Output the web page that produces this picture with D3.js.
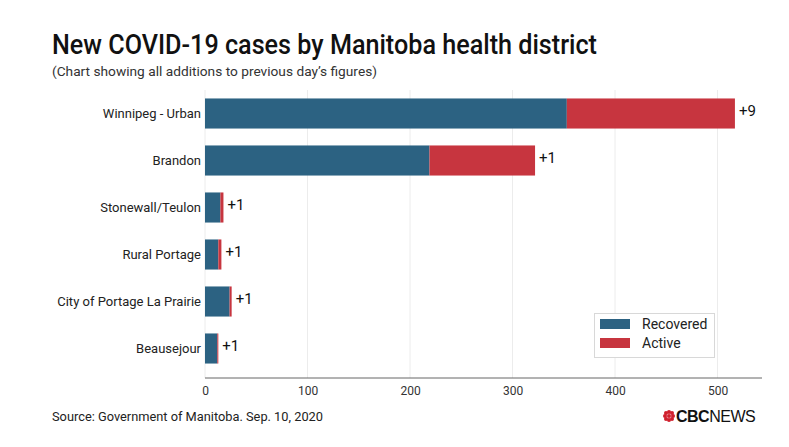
<!DOCTYPE html>
<html><head><meta charset="utf-8">
<script src="https://cdnjs.cloudflare.com/ajax/libs/d3/7.8.5/d3.min.js"></script>
<style>
body{margin:0;background:#fff;}
text{font-family:Roboto,"Noto Sans",sans-serif;}
</style></head>
<body>
<svg id="c" width="789" height="447"></svg>
<script>
const categories = ["Winnipeg - Urban","Brandon","Stonewall/Teulon","Rural Portage","City of Portage La Prairie","Beausejour"];
const recovered = [353, 219, 15, 13, 24, 12];
const active = [164, 103, 3, 3, 2, 1];
const newCases = ["+9","+1","+1","+1","+1","+1"];
const ticks = [0,100,200,300,400,500];
const seriesNames = ["Recovered","Active"];
const colors = ["#2c6282","#c7353f"];

const svg = d3.select("#c");
svg.append("rect").attr("width",789).attr("height",447).attr("fill","#fff");

const x = d3.scaleLinear().domain([0,500]).range([205,717.5]);
const y = d3.scaleBand().domain(categories).range([90,372]).paddingInner(0.36).paddingOuter(0.18);

function fit(sel, w){
  sel.attr("textLength", w).attr("lengthAdjust","spacingAndGlyphs");
}

// gridlines
svg.append("g").selectAll("line").data(ticks).join("line")
  .attr("x1",d=>x(d)).attr("x2",d=>x(d)).attr("y1",90).attr("y2",378)
  .attr("stroke","#ececec").attr("stroke-width",1);

// title
fit(svg.append("text").attr("x",52).attr("y",54).attr("font-size",27).attr("font-weight",500).attr("fill","#111")
  .text("New COVID-19 cases by Manitoba health district"), 545);
fit(svg.append("text").attr("x",52).attr("y",76).attr("font-size",13).attr("fill","#333")
  .text("(Chart showing all additions to previous day’s figures)"), 325);

// stacked data
const rows = categories.map((c,i)=>({cat:c, rec:recovered[i], act:active[i], lab:newCases[i]}));
const g = svg.append("g");
g.selectAll("rect.rec").data(rows).join("rect").attr("class","rec")
  .attr("x",x(0)).attr("y",d=>y(d.cat)).attr("height",y.bandwidth())
  .attr("width",d=>x(d.rec)-x(0)).attr("fill",colors[0]);
g.selectAll("rect.act").data(rows).join("rect").attr("class","act")
  .attr("x",d=>x(d.rec)).attr("y",d=>y(d.cat)).attr("height",y.bandwidth())
  .attr("width",d=>x(d.rec+d.act)-x(d.rec)).attr("fill",colors[1]);
g.selectAll("text.lab").data(rows).join("text").attr("class","lab")
  .attr("x",d=>x(d.rec+d.act)+4).attr("y",d=>y(d.cat)+y.bandwidth()/2-1.5)
  .attr("dominant-baseline","middle").attr("font-size",15).attr("fill","#111").text(d=>d.lab);

// category labels
svg.append("g").selectAll("text").data(categories).join("text")
  .attr("x",201).attr("y",d=>y(d)+y.bandwidth()/2+1).attr("text-anchor","end")
  .attr("dominant-baseline","middle").attr("font-size",13).attr("fill","#222").text(d=>d);

// x axis
const ax = svg.append("g").attr("transform","translate(0,378)")
  .call(d3.axisBottom(x).tickValues(ticks).tickSize(0).tickPadding(8));
ax.select(".domain").remove();
ax.selectAll("text").attr("font-size",12).attr("fill","#333").style("font-family","Roboto,sans-serif");
svg.append("line").attr("x1",205).attr("x2",762).attr("y1",378).attr("y2",378).attr("stroke","#666").attr("stroke-width",1);

// legend
const lg = svg.append("g");
lg.append("rect").attr("x",594.5).attr("y",313.5).attr("width",120).attr("height",44)
  .attr("fill","#fff").attr("stroke","#d8d8d8");
seriesNames.forEach((s,i)=>{
  lg.append("rect").attr("x",600).attr("y",319+i*19).attr("width",30).attr("height",10).attr("fill",colors[i]);
  lg.append("text").attr("x",642).attr("y",325+i*19).attr("dominant-baseline","middle")
    .attr("font-size",14).attr("fill","#222").text(s);
});

// source
fit(svg.append("text").attr("x",52).attr("y",421).attr("font-size",12.5).attr("fill","#222")
  .text("Source: Government of Manitoba. Sep. 10, 2020"), 271);

// CBC logo
const logo = svg.append("g").attr("transform","translate(669,416)");
const gem = [[0,-4],[0,4],[-4,0],[4,0],[-3,-3],[3,-3],[-3,3],[3,3]];
logo.selectAll("circle").data(gem).join("circle").attr("cx",d=>d[0]).attr("cy",d=>d[1]).attr("r",2).attr("fill","#d0202d");
logo.append("circle").attr("r",2).attr("fill","#d0202d");
const lt = logo.append("text").attr("x",7).attr("y",6).attr("font-size",16).attr("fill","#111")
  .style("font-family","'Liberation Sans',Arial,sans-serif").style("letter-spacing","-0.5px");
lt.append("tspan").attr("font-weight",700).text("CBC");
lt.append("tspan").text("NEWS");
</script>
</body></html>
